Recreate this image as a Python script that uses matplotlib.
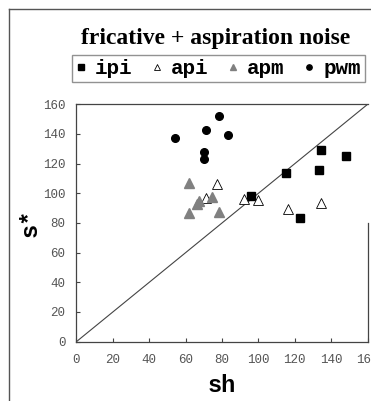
import matplotlib.pyplot as plt
from matplotlib.lines import Line2D

# data
ipi_x = [96.1, 115.1, 134.3, 133.1, 147.9, 122.8]
ipi_y = [98.2, 113.6, 129.3, 115.6, 125.2, 83.2]
api_x = [77.2, 71.2, 91.9, 100.0, 116.4, 134.5]
api_y = [106.1, 96.7, 96.4, 95.7, 89.5, 93.7]
apm_x = [62.0, 62.0, 66.0, 67.5, 74.3, 78.3]
apm_y = [106.8, 86.5, 93.0, 94.8, 97.8, 87.6]
pwm_x = [53.9, 71.2, 78.1, 83.3, 70.2, 70.2]
pwm_y = [137.2, 142.8, 152.2, 139.6, 127.7, 123.2]
ticks = [0, 20, 40, 60, 80, 100, 120, 140, 160]

mono = 'Liberation Mono'
serif = 'Liberation Serif'

fig = plt.figure(figsize=(3.71, 4.01), dpi=100)
ax = fig.add_axes([0.206, 0.148, 0.785, 0.592])

ax.plot([0, 160], [0, 160], color='#444444', lw=0.8)
ax.plot(ipi_x, ipi_y, 's', color='black', ms=6, ls='none', label='ipi')
ax.plot(api_x, api_y, '^', mfc='white', mec='black', mew=0.6, ms=7, ls='none', label='api')
ax.plot(apm_x, apm_y, '^', color='#808080', ms=7, ls='none', label='apm')
ax.plot(pwm_x, pwm_y, 'o', color='black', ms=5.5, ls='none', label='pwm')

ax.set_xlim(0, 160)
ax.set_ylim(0, 160)
ax.set_xticks(ticks)
ax.set_yticks(ticks)
ax.set_xticklabels([str(t) for t in ticks], family=mono, fontsize=9, color='#555555')
ax.set_yticklabels([str(t) for t in ticks], family=mono, fontsize=9, color='#555555')
ax.tick_params(axis='x', direction='in', length=3, pad=9, color='#444444')
ax.tick_params(axis='y', direction='in', length=3, pad=8, color='#444444')
for s in ax.spines.values():
    s.set_color('#444444')
    s.set_linewidth(0.9)
ax.spines['right'].set_bounds(0, 80)

ax.set_xlabel('sh', family=mono, fontweight='bold', fontsize=17, labelpad=6)
ax.set_ylabel('s*', family=mono, fontweight='bold', fontsize=17, labelpad=1)

fig.text(0.582, 0.903, 'fricative + aspiration noise', family=serif, fontweight='bold',
         fontsize=17, ha='center', va='center')

leg = fig.legend(loc='upper left', bbox_to_anchor=(72 / 371, 1 - 55 / 401), ncol=4,
                 prop={'family': mono, 'weight': 'bold', 'size': 15},
                 frameon=True, fancybox=False, edgecolor='#777777', markerscale=0.7,
                 handlelength=0.5, handletextpad=0.4, columnspacing=0.95,
                 borderpad=0.2, borderaxespad=0)
leg.get_frame().set_linewidth(1.0)

# outer border of the picture
fig.add_artist(Line2D([9 / 371, 9 / 371], [0, 1 - 9 / 401], transform=fig.transFigure,
                      color='#555555', lw=1))
fig.add_artist(Line2D([9 / 371, 1], [1 - 9 / 401, 1 - 9 / 401], transform=fig.transFigure,
                      color='#555555', lw=1))

fig.savefig('out.png', dpi=100)
